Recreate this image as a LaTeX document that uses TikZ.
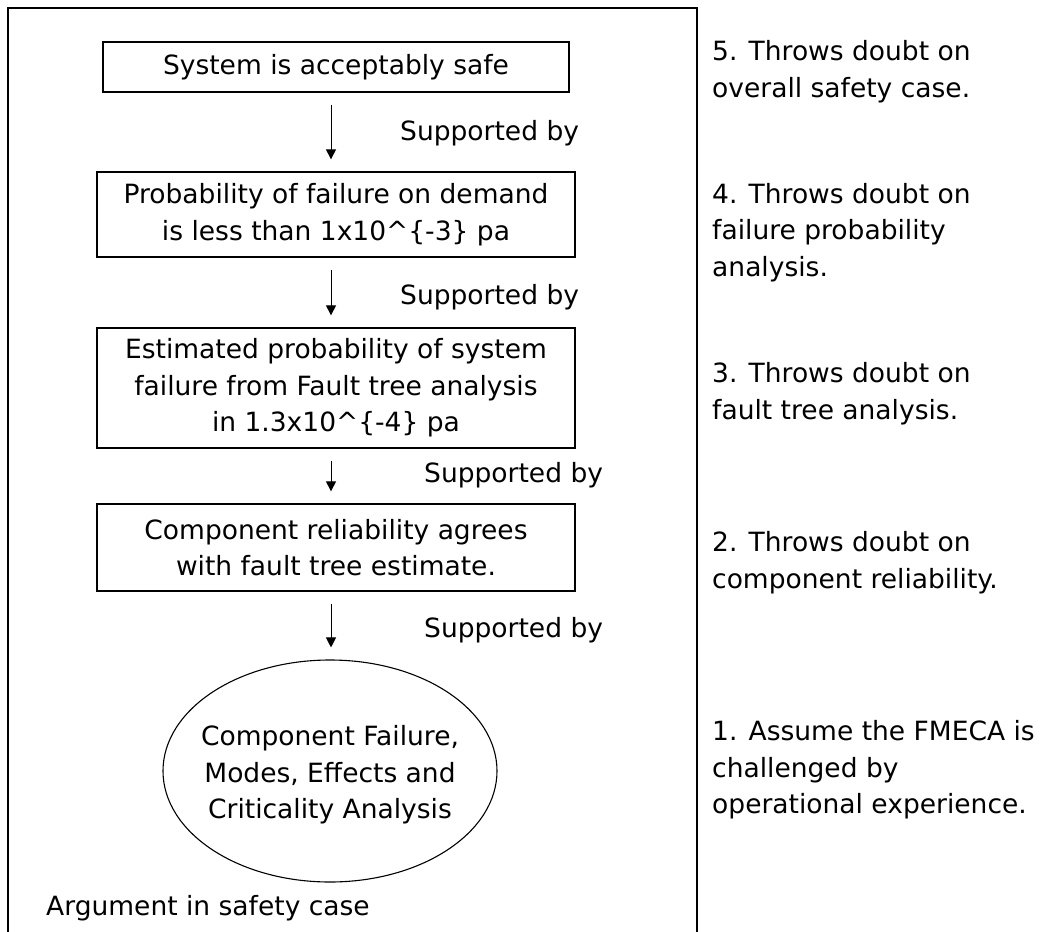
\documentclass[tikz,border=0pt]{standalone}
\usepackage{fontspec}
\setmainfont{DejaVu Sans}
\usetikzlibrary{shapes.geometric,arrows.meta}
\begin{document}
\begin{tikzpicture}[x=1pt,y=-1pt,
  every node/.style={font=\fontsize{26.5}{36.5}\selectfont, inner sep=0pt},
  claim/.style={draw, line width=1.3pt, align=center, minimum width=#1},
  claim/.default=478pt,
  flow/.style={line width=1pt, -{Triangle[length=10pt,width=10pt]},
               shorten <=12pt, shorten >=12pt},
  note/.style={anchor=west, align=left},
  support/.style={anchor=west}]
\useasboundingbox (0,0) rectangle (1050,932);
\fill[white] (0,0) rectangle (1050,932);

% outer frame (open at the bottom)
\draw[line width=1.4pt] (8,932) -- (8,8) -- (697,8) -- (697,932);

% argument chain
\node[claim=466pt, minimum height=50pt] (b1) at (336,67) {System is acceptably safe};
\node[claim, minimum height=85pt] (b2) at (336,214.5)
  {Probability of failure on demand\\is less than 1x10\textasciicircum\{-3\} pa};
\node[claim, minimum height=120pt] (b3) at (336,388)
  {Estimated probability of system\\failure from Fault tree analysis\\in 1.3x10\textasciicircum\{-4\} pa};
\node[claim, minimum height=87pt] (b4) at (336,547.5)
  {Component reliability agrees\\with fault tree estimate.};
\node[draw, line width=1.1pt, ellipse, minimum width=334pt, minimum height=222pt,
      align=center] (fm) at (330,771) {};
\node[align=center] at (330,775)
  {Component Failure,\\Modes, Effects and\\Criticality Analysis};

% connectors
\coordinate (ax) at (331,0);
\draw[flow] (b1.south -| ax) -- (b2.north -| ax);
\draw[flow] (b2.south -| ax) -- (b3.north -| ax);
\draw[flow] (b3.south -| ax) -- (b4.north -| ax);
\draw[flow] (b4.south -| ax) -- (fm.north -| ax);

\node[support] (s1) at (400,133) {Supported by};
\node[support] (s2) at (400,297) {Supported by};
\node[support] (s3) at (424,475) {Supported by};
\node[support] (s4) at (424,630) {Supported by};

\node[anchor=west] (cap) at (46,908) {Argument in safety case};

% challenges listed on the right
\node[note] (n5) at (712,71.5) {5. Throws doubt on\\overall safety case.};
\node[note] (n4) at (712,232.5) {4. Throws doubt on\\failure probability\\analysis.};
\node[note] (n3) at (712,393.5) {3. Throws doubt on\\fault tree analysis.};
\node[note] (n2) at (712,562.5) {2. Throws doubt on\\component reliability.};
\node[note] (n1) at (712,770) {1. Assume the FMECA is\\challenged by\\operational experience.};
\end{tikzpicture}
\end{document}
